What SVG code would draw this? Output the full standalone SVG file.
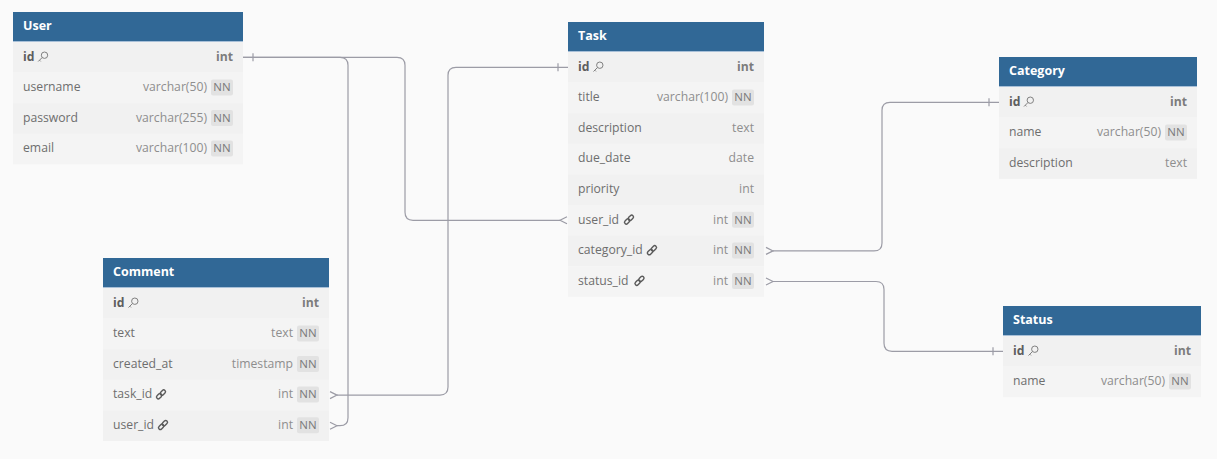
<svg xmlns="http://www.w3.org/2000/svg" xmlns:xlink="http://www.w3.org/1999/xlink" width="1217" height="459" viewBox="0 0 1217 459">
<style>
text{font-family:"Open Sans","Noto Sans","Liberation Sans",sans-serif;font-size:12.2px}
.hdr{fill:#316896}
.hl{stroke:#a8c0d8;stroke-width:1}
.hd{fill:#ffffff;font-weight:700;font-size:12.5px}
.ra{fill:#f1f1f1}
.rb{fill:#f4f4f4}
.nm{fill:#6e6e6e}
.pk{fill:#5e5e5e;font-weight:700}
.ty{fill:#8e8e8e;text-anchor:end}
.pt{fill:#7c7c7c;font-weight:700;text-anchor:end}
.nn{fill:#e2e2e2}
.nt{fill:#7a7a7a;text-anchor:middle;font-size:11.5px}
.ln{fill:none;stroke:#9c9ca6;stroke-width:1.2}
.key{fill:none;stroke:#808080;stroke-width:1}
.lnk{fill:none;stroke:#5a5a5a;stroke-width:1.4}
</style>
<defs>
<g id="k"><circle cx="1.8" cy="-1.8" r="3.2"/><path d="M-0.5,0.5 L-4.5,4.5 M-3.2,3.2 L-2,4.4"/></g>
<g id="c"><g transform="rotate(45)"><rect x="-1.8" y="-5.6" width="3.6" height="6" rx="1.8"/><rect x="-1.8" y="-0.4" width="3.6" height="6" rx="1.8"/></g></g>
</defs>
<rect width="1217" height="459" fill="#fafafa"/>

<g id="connectors">
<path class="ln" d="M243,57.3 H397 Q405,57.3 405,65.3 V212.3 Q405,220.3 413,220.3 H560"/>
<path class="ln" d="M253,53.3 V61.3 M567,216.8 L560,220.3 L567,223.8"/>
<path class="ln" d="M243,57.3 H340 Q348,57.3 348,65.3 V417.7 Q348,425.7 340,425.7 H337"/>
<path class="ln" d="M330,422.2 L337,425.7 L330,429.2"/>
<path class="ln" d="M568,67.3 H456 Q448,67.3 448,75.3 V387.1 Q448,395.1 440,395.1 H337"/>
<path class="ln" d="M558,63.3 V71.3 M330,391.6 L337,395.1 L330,398.6"/>
<path class="ln" d="M773,250.9 H874 Q882,250.9 882,242.9 V110.3 Q882,102.3 890,102.3 H999"/>
<path class="ln" d="M766,247.4 L773,250.9 L766,254.4 M989,98.3 V106.3"/>
<path class="ln" d="M773,281.5 H876 Q884,281.5 884,289.5 V343.3 Q884,351.3 892,351.3 H1003"/>
<path class="ln" d="M766,278 L773,281.5 L766,285 M993,347.3 V355.3"/>
</g>

<g id="User">
<rect class="ra" x="13" y="42" width="230" height="30.6"/>
<rect class="rb" x="13" y="72.6" width="230" height="30.6"/>
<rect class="ra" x="13" y="103.2" width="230" height="30.6"/>
<rect class="rb" x="13" y="133.8" width="230" height="30.6"/>
<rect class="hdr" x="13" y="12" width="230" height="30"/>
<line class="hl" x1="13" y1="41.5" x2="243" y2="41.5"/>
<text class="hd" x="23" y="30">User</text>
<text class="pk" x="23" y="60.8">id</text><use href="#k" class="key" x="42.7" y="57"/><text class="pt" x="233" y="60.8">int</text>
<text class="nm" x="23" y="91.2">username</text><text class="ty" x="207" y="91.2">varchar(50)</text><rect class="nn" x="211" y="79.4" width="22" height="16" rx="2"/><text class="nt" x="222" y="91.2">NN</text>
<text class="nm" x="23" y="121.8">password</text><text class="ty" x="207" y="121.8">varchar(255)</text><rect class="nn" x="211" y="110" width="22" height="16" rx="2"/><text class="nt" x="222" y="121.8">NN</text>
<text class="nm" x="23" y="152.4">email</text><text class="ty" x="207" y="152.4">varchar(100)</text><rect class="nn" x="211" y="140.6" width="22" height="16" rx="2"/><text class="nt" x="222" y="152.4">NN</text>
</g>

<g id="Task">
<rect class="ra" x="568" y="52" width="196" height="30.6"/>
<rect class="rb" x="568" y="82.6" width="196" height="30.6"/>
<rect class="ra" x="568" y="113.2" width="196" height="30.6"/>
<rect class="rb" x="568" y="143.8" width="196" height="30.6"/>
<rect class="ra" x="568" y="174.4" width="196" height="30.6"/>
<rect class="rb" x="568" y="205" width="196" height="30.6"/>
<rect class="ra" x="568" y="235.6" width="196" height="30.6"/>
<rect class="rb" x="568" y="266.2" width="196" height="30.6"/>
<rect class="hdr" x="568" y="22" width="196" height="30"/>
<line class="hl" x1="568" y1="51.5" x2="764" y2="51.5"/>
<text class="hd" x="578" y="40">Task</text>
<text class="pk" x="578" y="70.8">id</text><use href="#k" class="key" x="598" y="67"/><text class="pt" x="754" y="70.8">int</text>
<text class="nm" x="578" y="101.2">title</text><text class="ty" x="728" y="101.2">varchar(100)</text><rect class="nn" x="732" y="89.4" width="22" height="16" rx="2"/><text class="nt" x="743" y="101.2">NN</text>
<text class="nm" x="578" y="131.8">description</text><text class="ty" x="754" y="131.8">text</text>
<text class="nm" x="578" y="162.4">due_date</text><text class="ty" x="754" y="162.4">date</text>
<text class="nm" x="578" y="193">priority</text><text class="ty" x="754" y="193">int</text>
<text class="nm" x="578" y="223.6">user_id</text><use href="#c" class="lnk" x="629" y="219.6"/><text class="ty" x="728" y="223.6">int</text><rect class="nn" x="732" y="211.8" width="22" height="16" rx="2"/><text class="nt" x="743" y="223.6">NN</text>
<text class="nm" x="578" y="254.2">category_id</text><use href="#c" class="lnk" x="652" y="250.2"/><text class="ty" x="728" y="254.2">int</text><rect class="nn" x="732" y="242.4" width="22" height="16" rx="2"/><text class="nt" x="743" y="254.2">NN</text>
<text class="nm" x="578" y="284.8">status_id</text><use href="#c" class="lnk" x="639.5" y="280.8"/><text class="ty" x="728" y="284.8">int</text><rect class="nn" x="732" y="273" width="22" height="16" rx="2"/><text class="nt" x="743" y="284.8">NN</text>
</g>

<g id="Category">
<rect class="ra" x="999" y="87" width="198" height="30.6"/>
<rect class="rb" x="999" y="117.6" width="198" height="30.6"/>
<rect class="ra" x="999" y="148.2" width="198" height="30.6"/>
<rect class="hdr" x="999" y="57" width="198" height="30"/>
<line class="hl" x1="999" y1="86.5" x2="1197" y2="86.5"/>
<text class="hd" x="1009" y="75">Category</text>
<text class="pk" x="1009" y="105.8">id</text><use href="#k" class="key" x="1028.5" y="102"/><text class="pt" x="1187" y="105.8">int</text>
<text class="nm" x="1009" y="136.2">name</text><text class="ty" x="1161" y="136.2">varchar(50)</text><rect class="nn" x="1165" y="124.4" width="22" height="16" rx="2"/><text class="nt" x="1176" y="136.2">NN</text>
<text class="nm" x="1009" y="166.8">description</text><text class="ty" x="1187" y="166.8">text</text>
</g>

<g id="Status">
<rect class="ra" x="1003" y="336" width="198" height="30.6"/>
<rect class="rb" x="1003" y="366.6" width="198" height="30.6"/>
<rect class="hdr" x="1003" y="306" width="198" height="30"/>
<line class="hl" x1="1003" y1="335.5" x2="1201" y2="335.5"/>
<text class="hd" x="1013" y="324">Status</text>
<text class="pk" x="1013" y="354.8">id</text><use href="#k" class="key" x="1033" y="351"/><text class="pt" x="1191" y="354.8">int</text>
<text class="nm" x="1013" y="385.2">name</text><text class="ty" x="1165" y="385.2">varchar(50)</text><rect class="nn" x="1169" y="373.4" width="22" height="16" rx="2"/><text class="nt" x="1180" y="385.2">NN</text>
</g>

<g id="Comment">
<rect class="ra" x="103" y="288" width="226" height="30.6"/>
<rect class="rb" x="103" y="318.6" width="226" height="30.6"/>
<rect class="ra" x="103" y="349.2" width="226" height="30.6"/>
<rect class="rb" x="103" y="379.8" width="226" height="30.6"/>
<rect class="ra" x="103" y="410.4" width="226" height="30.6"/>
<rect class="hdr" x="103" y="258" width="226" height="30"/>
<line class="hl" x1="103" y1="287.5" x2="329" y2="287.5"/>
<text class="hd" x="113" y="276">Comment</text>
<text class="pk" x="113" y="306.8">id</text><use href="#k" class="key" x="133" y="303"/><text class="pt" x="319" y="306.8">int</text>
<text class="nm" x="113" y="337.2">text</text><text class="ty" x="293" y="337.2">text</text><rect class="nn" x="297" y="325.4" width="22" height="16" rx="2"/><text class="nt" x="308" y="337.2">NN</text>
<text class="nm" x="113" y="367.8">created_at</text><text class="ty" x="293" y="367.8">timestamp</text><rect class="nn" x="297" y="356" width="22" height="16" rx="2"/><text class="nt" x="308" y="367.8">NN</text>
<text class="nm" x="113" y="398.4">task_id</text><use href="#c" class="lnk" x="161" y="394.4"/><text class="ty" x="293" y="398.4">int</text><rect class="nn" x="297" y="386.6" width="22" height="16" rx="2"/><text class="nt" x="308" y="398.4">NN</text>
<text class="nm" x="113" y="429">user_id</text><use href="#c" class="lnk" x="163" y="425"/><text class="ty" x="293" y="429">int</text><rect class="nn" x="297" y="417.2" width="22" height="16" rx="2"/><text class="nt" x="308" y="429">NN</text>
</g>
</svg>
